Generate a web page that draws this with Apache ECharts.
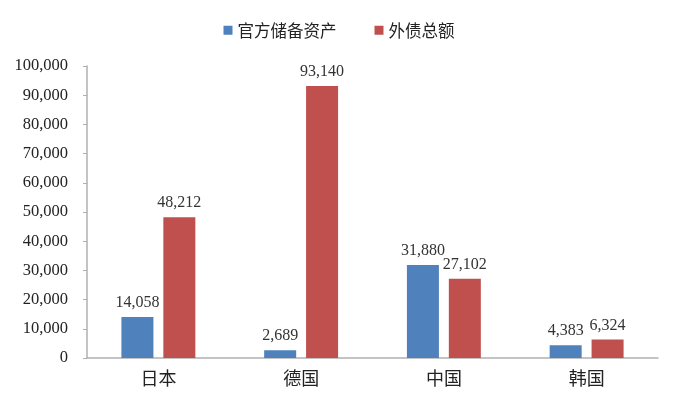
<!DOCTYPE html>
<html><head><meta charset="utf-8">
<script src="https://cdn.jsdelivr.net/npm/echarts@6/dist/echarts.min.js"></script>
<style>html,body{margin:0;padding:0;background:#fff}#c{width:678px;height:407px}</style>
</head><body><div id="c"></div>
<script>
const categories = ['日本', '德国', '中国', '韩国'];
const seriesNames = ['官方储备资产', '外债总额'];
const reserves = [14058, 2689, 31880, 4383];
const externalDebt = [48212, 93140, 27102, 6324];
const yTicks = { min: 0, max: 100000, interval: 10000 };

const fontFam = '"Liberation Serif", "Times New Roman", "Noto Sans CJK SC", serif';
const cjkFam = '"Noto Sans CJK SC", "Liberation Serif", serif';
const chart = echarts.init(document.getElementById('c'), null, { renderer: 'canvas' });
const fmt = v => v.toLocaleString('en-US');
const labelCfg = { show: true, position: 'top', distance: 6, color: '#333', fontFamily: fontFam, fontSize: 16, formatter: p => fmt(p.value) };
chart.setOption({
  animation: false,
  legend: {
    top: 17, left: 'center', itemWidth: 9, itemHeight: 9, itemGap: 38,
    textStyle: { fontFamily: cjkFam, fontSize: 16.5, color: '#222' },
    icon: 'rect', data: seriesNames
  },
  grid: { left: 87, right: 20, top: 66, bottom: 49, containLabel: false },
  xAxis: {
    type: 'category', data: categories,
    axisLine: { lineStyle: { color: '#b0b0b0', width: 1.5 } },
    axisTick: { show: false },
    axisLabel: { fontFamily: cjkFam, fontSize: 18, color: '#222', margin: 11 }
  },
  yAxis: {
    type: 'value', min: yTicks.min, max: yTicks.max, interval: yTicks.interval,
    axisLine: { show: true, lineStyle: { color: '#b0b0b0', width: 1.5 } },
    axisTick: { show: true, length: 4, lineStyle: { color: '#b0b0b0' } },
    splitLine: { show: false },
    axisLabel: { fontFamily: fontFam, fontSize: 16.5, color: '#222', margin: 19, formatter: v => fmt(v) }
  },
  series: [
    { name: seriesNames[0], type: 'bar', data: reserves, barWidth: 32, barGap: '31%',
      itemStyle: { color: '#4F81BD' }, label: labelCfg },
    { name: seriesNames[1], type: 'bar', data: externalDebt, barWidth: 32, barGap: '31%',
      itemStyle: { color: '#C0504D' }, label: labelCfg }
  ]
});
</script></body></html>
